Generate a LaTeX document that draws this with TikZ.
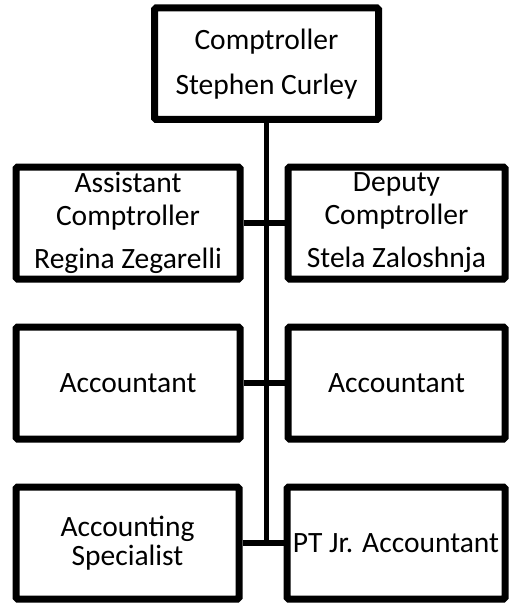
\documentclass[tikz,border=0pt]{standalone}
\usepackage{fontspec}
\setmainfont{Carlito}
\usetikzlibrary{shadows}
\begin{document}
\begin{tikzpicture}[x=1pt,y=-1pt,
  box/.style={draw=black,line width=7pt,rounded corners=1.5pt,fill=white,
    align=center,inner sep=0pt,
    drop shadow={opacity=0.18,shadow xshift=1.5pt,shadow yshift=-3pt},
    font=\fontsize{29.5}{33}\selectfont},
  conn/.style={draw=black,line width=5.5pt}]
\useasboundingbox (0,0) rectangle (509,604);
\node[box,minimum width=224pt,minimum height=111.5pt] (top) at (266.5,63.75)
  {Comptroller\\[12pt]Stephen Curley};
\coordinate (spine) at (266.5,543);
\draw[conn] (top.south) -- (spine);
\node[box,minimum width=224pt,minimum height=112pt] (asst) at (128,223)
  {Assistant\\Comptroller\\[10pt]Regina Zegarelli};
\node[box,minimum width=217pt,minimum height=112pt] (dep) at (396.5,223)
  {Deputy\\Comptroller\\[10pt]Stela Zaloshnja};
\node[box,minimum width=224pt,minimum height=112pt] (acc1) at (128,383)
  {Accountant};
\node[box,minimum width=217pt,minimum height=112pt] (acc2) at (396.5,383)
  {Accountant};
\node[box,minimum width=223pt,minimum height=112pt,
  font=\fontsize{29.5}{29}\selectfont] (spec) at (127.5,543)
  {Accounting\\Specialist};
\node[box,minimum width=218pt,minimum height=112pt] (pt) at (396,543)
  {PT Jr. Accountant};
\draw[conn] (asst.east) -- (dep.west);
\draw[conn] (acc1.east) -- (acc2.west);
\draw[conn] (spec.east) -- (pt.west);
\end{tikzpicture}
\end{document}
